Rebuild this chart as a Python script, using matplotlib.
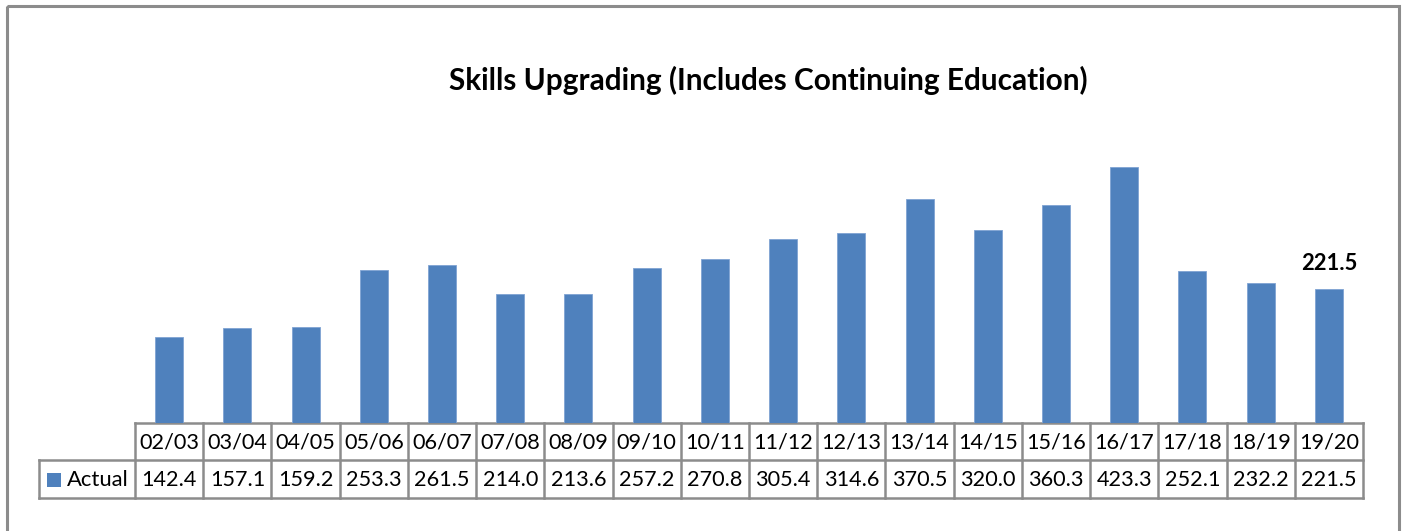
import matplotlib
matplotlib.use("Agg")
import matplotlib.pyplot as plt
from matplotlib.transforms import blended_transform_factory
from matplotlib.patches import Rectangle

categories = ["02/03", "03/04", "04/05", "05/06", "06/07", "07/08", "08/09", "09/10", "10/11",
              "11/12", "12/13", "13/14", "14/15", "15/16", "16/17", "17/18", "18/19", "19/20"]
actual = [142.4, 157.1, 159.2, 253.3, 261.5, 214.0, 213.6, 257.2, 270.8,
          305.4, 314.6, 370.5, 320.0, 360.3, 423.3, 252.1, 232.2, 221.5]
series_name = "Actual"
title = "Skills Upgrading (Includes Continuing Education)"

W, H = 1403, 531
DPI = 100
BAR = "#4F81BD"
GRID = "#8C8C8C"
FONT = ["Lato", "DejaVu Sans"]
plt.rcParams["font.family"] = FONT

fig = plt.figure(figsize=(W / DPI, H / DPI), dpi=DPI)
fig.patch.set_facecolor("white")

# overlay in pixel coordinates (y downward)
ov = fig.add_axes([0, 0, 1, 1])
ov.set_xlim(0, W)
ov.set_ylim(H, 0)
ov.axis("off")
ov.set_zorder(0)

# bar axes
left, right, bottom, top = 135, 1363, 423, 121
ax = fig.add_axes([left / W, 1 - bottom / H, (right - left) / W, (bottom - top) / H])
ax.set_zorder(1)
ax.patch.set_alpha(0)
n = len(categories)
x = list(range(n))
ax.bar(x, actual, width=0.41, color=BAR, edgecolor="#7FA3D3", linewidth=0.6)
ax.set_xlim(-0.5, n - 0.5)
ax.set_ylim(0, 500)
ax.axis("off")

# data label on last bar
ax.annotate(f"{actual[-1]:.1f}", (x[-1], actual[-1]), xytext=(0, 11), textcoords="offset points",
            ha="center", va="bottom", fontsize=15.8, fontweight="bold", color="black")

# outer border
ov.add_patch(Rectangle((7, 6), 1392, 600, fill=False, edgecolor=GRID, linewidth=2.2))

# title
ov.text(768, 80, title, ha="center", va="center", fontsize=21.4, fontweight="bold", color="black")

# data table
tr = blended_transform_factory(ax.transData, ov.transData)
y0, y1, y2 = 423, 460, 498
lw = 1.8
ov.plot([-0.5, n - 0.5], [y0, y0], color=GRID, lw=lw, transform=tr, solid_capstyle="projecting")
ov.plot([39, right], [y1, y1], color=GRID, lw=lw, solid_capstyle="projecting")
ov.plot([39, right], [y2, y2], color=GRID, lw=lw, solid_capstyle="projecting")
for i in range(n + 1):
    ov.plot([i - 0.5, i - 0.5], [y0, y2], color=GRID, lw=lw, transform=tr)
ov.plot([39, 39], [y1, y2], color=GRID, lw=lw)

for i, (c, v) in enumerate(zip(categories, actual)):
    ov.text(i, (y0 + y1) / 2 + 1, c, transform=tr, ha="center", va="center", fontsize=15.6, color="black")
    ov.text(i, (y1 + y2) / 2 + 1, f"{v:.1f}", transform=tr, ha="center", va="center", fontsize=15.6, color="black")

# legend cell
ov.add_patch(Rectangle((47, 473), 14, 14, facecolor=BAR, edgecolor="none"))
ov.text(67, (y1 + y2) / 2 + 1, series_name, ha="left", va="center", fontsize=15.8, color="black")

fig.savefig("out.png", dpi=DPI, facecolor="white")
